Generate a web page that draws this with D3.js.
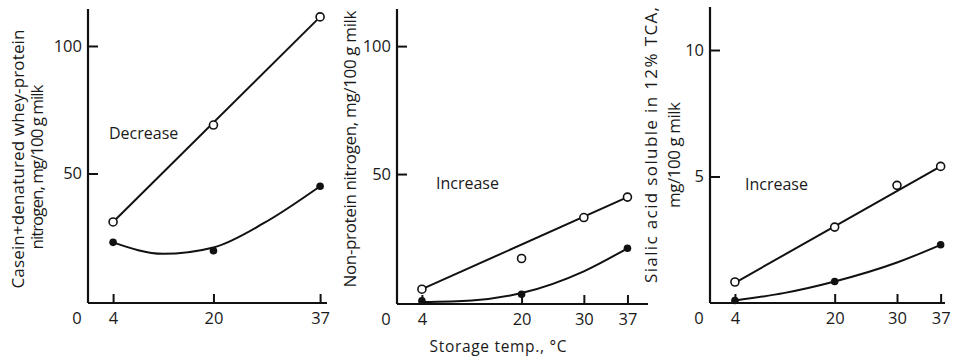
<!DOCTYPE html>
<html>
<head>
<meta charset="utf-8">
<script src="https://cdn.jsdelivr.net/npm/d3@7"></script>
<style>
  html, body { margin: 0; padding: 0; background: #fff; }
  svg { display: block; }
  text { font-family: "Open Sans", Lato, sans-serif; fill: #1a1a1a; }
</style>
</head>
<body>
<svg id="chart" width="955" height="359"></svg>
<script>
// Storage temperatures (°C) at which milk was sampled
const tempTicksA = [4, 20, 37];
const tempTicksB = [4, 20, 30, 37];

// Panel A: casein + denatured whey-protein nitrogen, mg/100 g milk
const aOpenTemp = [4, 20, 37];
const aOpen = [31, 69, 111.4];
const aFilledTemp = [4, 20, 37];
const aFilled = [23, 19.7, 45];
const aOpenFit = [[4, 31], [37, 111.4]];
const aFilledFit = [[4, 23], [12, 18.5], [20, 21], [28, 30.5], [37, 45]];
const aYTicks = [50, 100];

// Panel B: non-protein nitrogen, mg/100 g milk
const bOpenTemp = [4, 20, 30, 37];
const bOpen = [5, 17, 33, 41];
const bFilledTemp = [4, 20, 37];
const bFilled = [0.5, 3, 21];
const bOpenFit = [[4, 5], [37, 41]];
const bFilledFit = [[4, 0], [12, 0.6], [20, 3.5], [30, 12], [37, 21]];
const bYTicks = [50, 100];

// Panel C: sialic acid soluble in 12% TCA, mg/100 g milk
const cOpenTemp = [4, 20, 30, 37];
const cOpen = [0.83, 3.0, 4.65, 5.4];
const cFilledTemp = [4, 20, 37];
const cFilled = [0.1, 0.85, 2.3];
const cOpenFit = [[4, 0.8], [37, 5.4]];
const cFilledFit = [[4, 0.1], [12, 0.4], [20, 0.85], [30, 1.6], [37, 2.3]];
const cYTicks = [5, 10];

const panels = [
  {
    left: 88, right: 327, top: 9, bottom: 303, zeroY: 301,
    xMax: 38.1, yMax: 114.5, xTicks: tempTicksA, yTicks: aYTicks,
    open: aOpenTemp.map((t, i) => [t, aOpen[i]]),
    filled: aFilledTemp.map((t, i) => [t, aFilled[i]]),
    openFit: aOpenFit, filledFit: aFilledFit,
    note: "Decrease", noteX: 109, noteY: 139,
    titles: [
      { text: "Casein+denatured whey-protein", x: 18, y: 159, len: 259 },
      { text: "nitrogen, mg/100 g milk", x: 37, y: 167, len: 165 }
    ]
  },
  {
    left: 397, right: 648, top: 9, bottom: 304, zeroY: 302,
    xMax: 40.3, yMax: 114.5, xTicks: tempTicksB, yTicks: bYTicks,
    open: bOpenTemp.map((t, i) => [t, bOpen[i]]),
    filled: bFilledTemp.map((t, i) => [t, bFilled[i]]),
    openFit: bOpenFit, filledFit: bFilledFit,
    note: "Increase", noteX: 436, noteY: 189,
    titles: [
      { text: "Non-protein nitrogen, mg/100 g milk", x: 350, y: 149, len: 277 }
    ]
  },
  {
    left: 710, right: 945, top: 7, bottom: 303, zeroY: 303,
    xMax: 37.7, yMax: 11.7, xTicks: tempTicksB, yTicks: cYTicks,
    open: cOpenTemp.map((t, i) => [t, cOpen[i]]),
    filled: cFilledTemp.map((t, i) => [t, cFilled[i]]),
    openFit: cOpenFit, filledFit: cFilledFit,
    note: "Increase", noteX: 745, noteY: 190,
    titles: [
      { text: "Sialic acid soluble in 12% TCA,", x: 651, y: 145, len: 276 },
      { text: "mg/100 g milk", x: 674, y: 155, len: 106 }
    ]
  }
];

const svg = d3.select("#chart");
const ink = "#111";
const face = "'Open Sans', Lato, sans-serif";

panels.forEach(p => {
  const x = d3.scaleLinear().domain([0, p.xMax]).range([p.left, p.right]);
  const y = d3.scaleLinear().domain([0, p.yMax]).range([p.zeroY, p.top]);
  const g = svg.append("g");

  // x axis: ticks point up into the plot
  const xAxis = g.append("g")
    .attr("transform", `translate(0,${p.bottom})`)
    .call(d3.axisBottom(x).tickValues(p.xTicks).tickSizeInner(-9).tickSizeOuter(0).tickPadding(9));
  // y axis: ticks point right into the plot
  const yAxis = g.append("g")
    .attr("transform", `translate(${p.left},0)`)
    .call(d3.axisLeft(y).tickValues(p.yTicks).tickSizeInner(-10).tickSizeOuter(0).tickPadding(6));

  [xAxis, yAxis].forEach(ax => {
    ax.select(".domain").attr("stroke", ink).attr("stroke-width", 2.2);
    ax.selectAll(".tick line").attr("stroke", ink).attr("stroke-width", 2);
    ax.selectAll(".tick text").attr("font-size", 16.5).attr("fill", "#1a1a1a")
      .style("font-family", face);
  });
  // stretch the axis lines to the full frame
  xAxis.select(".domain").attr("d", `M${p.left},0H${p.right}`);
  yAxis.select(".domain").attr("d", `M0,${p.top}V${p.bottom}`);

  // origin label sits left of the x axis start
  g.append("text")
    .attr("x", p.left - 11).attr("y", p.bottom + 9).attr("dy", "0.71em")
    .attr("text-anchor", "middle").attr("font-size", 16.5).text("0");

  const line = d3.line().x(d => x(d[0])).y(d => y(d[1]));
  g.append("path").datum(p.openFit)
    .attr("d", line).attr("fill", "none").attr("stroke", ink).attr("stroke-width", 2);
  g.append("path").datum(p.filledFit)
    .attr("d", line.curve(d3.curveMonotoneX)).attr("fill", "none").attr("stroke", ink).attr("stroke-width", 2);

  g.selectAll(".open").data(p.open).join("circle")
    .attr("cx", d => x(d[0])).attr("cy", d => y(d[1])).attr("r", 4)
    .attr("fill", "#fff").attr("stroke", ink).attr("stroke-width", 1.6);
  g.selectAll(".filled").data(p.filled).join("circle")
    .attr("cx", d => x(d[0])).attr("cy", d => y(d[1])).attr("r", 3.8)
    .attr("fill", ink);

  g.append("text").attr("x", p.noteX).attr("y", p.noteY)
    .attr("font-size", 16).text(p.note);

  p.titles.forEach(t => {
    g.append("text")
      .attr("transform", `translate(${t.x},${t.y}) rotate(-90)`)
      .attr("text-anchor", "middle").attr("dy", "0.35em")
      .attr("font-size", 17)
      .attr("textLength", t.len).attr("lengthAdjust", "spacing")
      .text(t.text);
  });
});

svg.append("text").attr("x", 498).attr("y", 347).attr("dy", "0.35em")
  .attr("text-anchor", "middle").attr("font-size", 15.5)
  .attr("textLength", 137).attr("lengthAdjust", "spacing")
  .text("Storage temp., °C");
</script>
</body>
</html>
